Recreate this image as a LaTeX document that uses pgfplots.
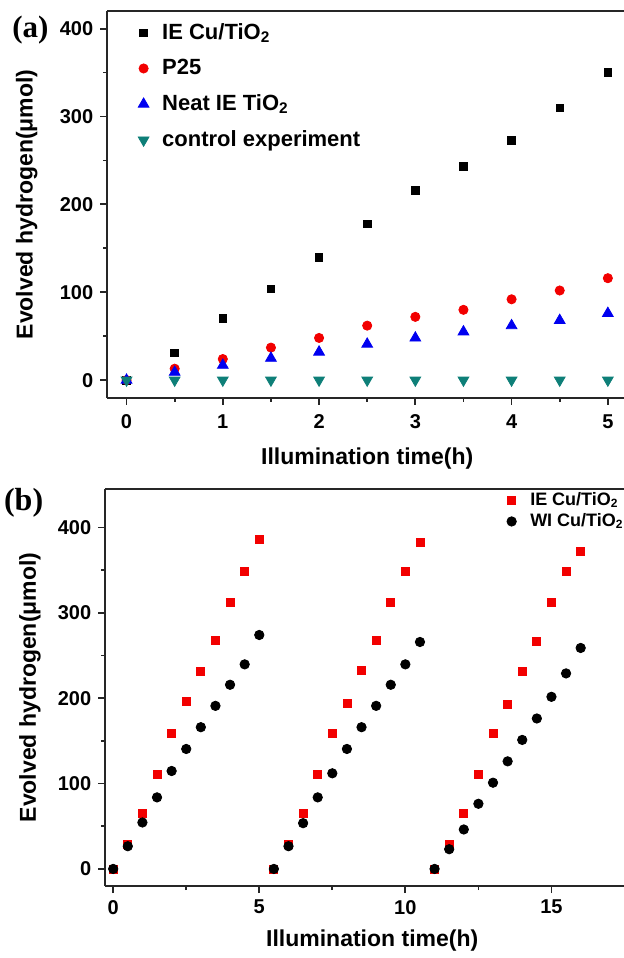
\documentclass[border=0pt]{standalone}
\usepackage{fontspec}
\setmainfont{Liberation Sans}
\newfontfamily\panelfont{Liberation Serif}
\usepackage{pgfplots}
\pgfplotsset{compat=1.18}
\definecolor{tealc}{HTML}{0E7F78}
\definecolor{redc}{HTML}{F20000}
\definecolor{bluec}{HTML}{0000F0}

\pgfplotsset{
  figstyle/.style={
    scale only axis, anchor=south west, clip=false,
    axis lines*=left,
    tick align=outside,
    major tick length=3.5pt, minor tick length=2pt,
    axis line style={line width=0.9pt, black!85},
    every tick/.style={line width=0.9pt, black!85},
    /pgf/number format/assume math mode=true,
    ticklabel style={font=\bfseries\fontsize{10}{12}\selectfont},
    label style={font=\bfseries\fontsize{11.5}{13}\selectfont},
    minor x tick num=1, minor y tick num=1,
    legend cell align=left,
    legend image code/.code={\draw[##1] plot coordinates {(0pt,0pt)}; \path[draw=none, fill=none] (-3pt,0pt) rectangle (7.3pt,0pt);},
    every axis plot/.append style={only marks},
  }
}

\begin{document}
\begin{tikzpicture}[x=1pt,y=1pt]
% panel (a)
\begin{axis}[figstyle,
  at={(53.65pt,280.15pt)}, width=259.9pt, height=193.3pt,
  xmin=-0.2, xmax=5.2, ymin=-20, ymax=420,
  xtick={0,1,2,3,4,5}, ytick={0,100,200,300,400},
  xticklabel style={yshift=-1.5pt},
  xlabel={Illumination time(h)}, ylabel={Evolved hydrogen(μmol)},
  xlabel style={at={(axis description cs:0.5,-0.174)}, anchor=base},
  ylabel style={at={(axis description cs:-0.155,0.5)}, anchor=center},
  legend style={at={(axis description cs:0.046,0.99)}, anchor=north west,
    draw=none, fill=none, row sep=4.5pt, font=\bfseries\fontsize{11}{13}\selectfont},
]
\addplot[black, mark=square*, mark size=1.9pt] coordinates {
  (0,0) (0.5,31) (1,70) (1.5,104) (2,140) (2.5,178) (3,216) (3.5,243) (4,273) (4.5,310) (5,350)};
\addlegendentry{IE Cu/TiO\textsubscript{2}}
\addplot[redc, mark=*, mark size=2.3pt] coordinates {
  (0,0) (0.5,13) (1,24) (1.5,37) (2,48) (2.5,62) (3,72) (3.5,80) (4,92) (4.5,102) (5,116)};
\addlegendentry{P25}
\addplot[bluec, mark=triangle*, mark size=3.1pt] coordinates {
  (0,0) (0.5,9) (1,17) (1.5,25) (2,32) (2.5,41) (3,48) (3.5,55) (4,62) (4.5,68) (5,76)};
\addlegendentry{Neat IE TiO\textsubscript{2}}
\addplot[tealc, mark=triangle*, mark size=3.1pt, mark options={rotate=180}] coordinates {
  (0,0) (0.5,0) (1,0) (1.5,0) (2,0) (2.5,0) (3,0) (3.5,0) (4,0) (4.5,0) (5,0)};
\addlegendentry{control experiment}
\draw[line width=0.9pt, black!85] (rel axis cs:0,1) -- (rel axis cs:1,1);
\node[font=\panelfont\bfseries\fontsize{15.5}{17}\selectfont] at (axis description cs:-0.148,0.95) {(a)};
\end{axis}

% panel (b)
\begin{axis}[figstyle,
  at={(52.65pt,36pt)}, width=266.9pt, height=198.5pt,
  xmin=-0.27, xmax=18, ymin=-20, ymax=445,
  xtick={0,5,10,15}, ytick={0,100,200,300,400},
  xlabel={Illumination time(h)}, ylabel={Evolved hydrogen(μmol)},
  xlabel style={at={(axis description cs:0.5,-0.153)}, anchor=base},
  ylabel style={at={(axis description cs:-0.141,0.5)}, anchor=center},
  legend style={at={(axis description cs:0.738,1)}, anchor=north west, yshift=2.5pt,
    draw=none, fill=none, row sep=-1.5pt, font=\bfseries\fontsize{9}{10}\selectfont},
]
\addplot[redc, mark=square*, mark size=2pt] coordinates {
  (0,0) (0.5,28.6) (1,65.4) (1.5,110.4) (2,158.9) (2.5,196.5) (3,231) (3.5,267.4) (4,312.4) (4.5,348.4) (5,386)
  (5.5,0) (6,28.6) (6.5,65.4) (7,110.4) (7.5,159.3) (8,193.8) (8.5,232.5) (9,268.2) (9.5,312.4) (10,348) (10.5,382.5)
  (11,0) (11.5,28.6) (12,65.4) (12.5,110.4) (13,158.9) (13.5,193) (14,231) (14.5,266.2) (15,312.4) (15.5,348.8) (16,371.5)};
\addlegendentry{IE Cu/TiO\textsubscript{2}}
\addplot[black, mark=*, mark size=2.35pt] coordinates {
  (0,0) (0.5,26.6) (1,54.4) (1.5,83.8) (2,114.7) (2.5,140.5) (3,166) (3.5,191) (4,215.7) (4.5,239.6) (5,274)
  (5.5,0) (6,26.6) (6.5,53.6) (7,83.8) (7.5,112) (8,140.5) (8.5,166) (9,191) (9.5,215.7) (10,239.6) (10.5,265.8)
  (11,0) (11.5,23.1) (12,46.2) (12.5,76.3) (13,101) (13.5,126) (14,151.1) (14.5,176.2) (15,201.6) (15.5,229) (16,258.8)};
\addlegendentry{WI Cu/TiO\textsubscript{2}}
\draw[line width=0.9pt, black!85] (rel axis cs:0,1) -- (rel axis cs:1,1);
\node[font=\panelfont\bfseries\fontsize{16}{18}\selectfont] at (axis description cs:-0.153,0.965) {(b)};
\end{axis}

\pgfresetboundingbox
\path (0pt,0pt) rectangle (311.5pt,479pt);
\end{tikzpicture}
\end{document}
